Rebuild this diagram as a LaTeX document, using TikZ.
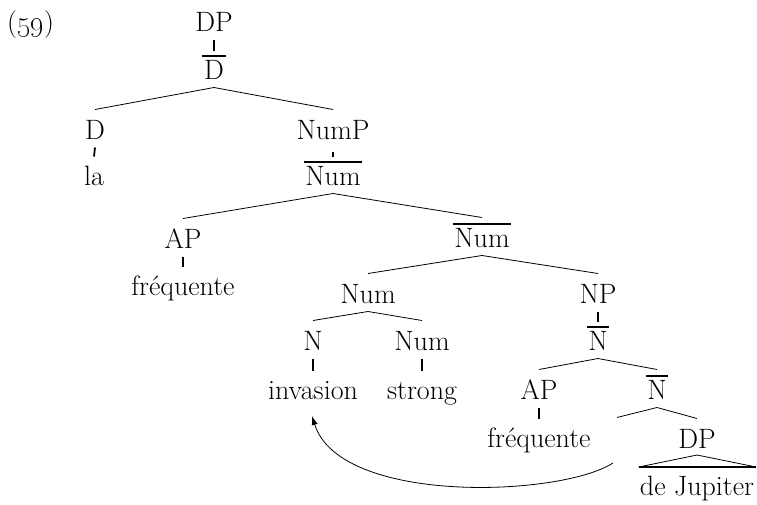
\documentclass[tikz,border=0pt]{standalone}
\usetikzlibrary{calc,arrows.meta}
\begin{document}
\begin{tikzpicture}[x=1pt,y=-1pt,
  lbl/.style={anchor=base,inner sep=0pt,font=\fontsize{28}{33}\selectfont},
  branch/.style={line width=0.8pt},
  tickln/.style={line width=1.8pt},
  ovl/.style={line width=1.8pt},
  mvarrow/.style={line width=0.8pt,-{Latex[length=9pt,width=6pt]}}]
\useasboundingbox (0,0) rectangle (757,504);
% labels
\node[lbl,anchor=base west] (ex) at (7,31) {(\oldstylenums{59})};
\node[lbl] (dp) at (214,31) {DP};
\node[lbl] (dbar) at (214,79) {D};
\node[lbl] (d) at (95,139) {D};
\node[lbl] (la) at (94,185) {la};
\node[lbl] (nump) at (333,139) {NumP};
\node[lbl] (numbarA) at (333,185) {Num};
\node[lbl] (apA) at (183,248) {AP};
\node[lbl] (freqA) at (183,295) {fréquente};
\node[lbl] (numbarB) at (482,247) {Num};
\node[lbl] (num) at (368,303) {Num};
\node[lbl] (np) at (598,303) {NP};
\node[lbl] (n) at (313,350) {N};
\node[lbl] (numS) at (422,350) {Num};
\node[lbl] (nbarA) at (598,350) {N};
\node[lbl] (inv) at (313,399) {invasion};
\node[lbl] (strong) at (422,399) {strong};
\node[lbl] (apB) at (539,399) {AP};
\node[lbl] (nbarB) at (657,399) {N};
\node[lbl] (freqB) at (539,447) {fréquente};
\node[lbl] (tr) at (617,447) {};
\coordinate (trstart) at (613,463);
\node[lbl] (dpB) at (697,448) {DP};
\node[lbl] (jup) at (697,495) {de Jupiter};
% overlines
\foreach \n in {dbar,numbarA,numbarB,nbarA,nbarB}
  \draw[ovl] ($(\n.base west)+(-1.5,-23)$) -- ($(\n.base east)+(1.5,-23)$);
% branches
\foreach \p/\c in {dbar/d,dbar/nump,numbarA/apA,numbarA/numbarB,numbarB/num,numbarB/np,
                   num/n,num/numS,nbarA/apB,nbarA/nbarB,nbarB/tr,nbarB/dpB}
  \draw[branch] ($(\p.base)+(0,8.5)$) -- ($(\c.base)+(0,-29.5)$);
% unary ticks
\foreach \p/\c in {dp/dbar,d/la,apA/freqA,np/nbarA,n/inv,numS/strong,apB/freqB}
  \draw[tickln] ($(\p.base)+(0,8.5)$) -- ($(\c.base)+(0,-28.5)$);
\draw[tickln] ($(nump.base)+(0,13)$) -- ($(numbarA.base)+(0,-28.5)$);
% triangle
\draw[branch] ($(dpB.base)+(0,7)$) -- ($(jup.base west)+(-1,-28)$);
\draw[branch] ($(dpB.base)+(0,7)$) -- ($(jup.base east)+(2,-28)$);
\draw[ovl] ($(jup.base west)+(-1,-28)$) -- ($(jup.base east)+(2,-28)$);
% movement arrow
\coordinate (invtip) at ($(inv.base)+(-1,17)$);
\draw[mvarrow] (trstart) .. controls (560,497) and (340,505) .. (invtip);
\end{tikzpicture}
\end{document}
